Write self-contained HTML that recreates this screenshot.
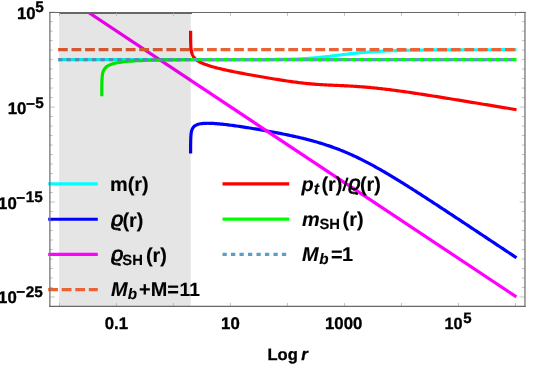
<!DOCTYPE html>
<html><head><meta charset="utf-8"><title>Plot</title>
<style>html,body{margin:0;padding:0;background:#fff}svg{display:block}</style></head>
<body>
<svg width="533" height="368" viewBox="0 0 533 368">
<rect x="0" y="0" width="533" height="368" fill="#fff"/>
<clipPath id="c"><rect x="49.60" y="12.55" width="475.35" height="293.80"/></clipPath>
<g clip-path="url(#c)" fill="none" stroke-width="3.2" stroke-linejoin="round">
<path d="M58.00,59.60 L59.53,59.60 L61.07,59.60 L62.60,59.60 L64.13,59.60 L65.67,59.60 L67.20,59.60 L68.73,59.60 L70.27,59.60 L71.80,59.60 L73.33,59.60 L74.87,59.60 L76.40,59.60 L77.93,59.60 L79.47,59.60 L81.00,59.60 L82.54,59.60 L84.07,59.60 L85.60,59.60 L87.14,59.60 L88.67,59.60 L90.20,59.60 L91.74,59.60 L93.27,59.60 L94.80,59.60 L96.34,59.60 L97.87,59.60 L99.40,59.60 L100.94,59.60 L102.47,59.60 L104.00,59.60 L105.54,59.60 L107.07,59.60 L108.60,59.60 L110.14,59.60 L111.67,59.60 L113.20,59.60 L114.74,59.60 L116.27,59.60 L117.80,59.60 L119.34,59.60 L120.87,59.60 L122.40,59.60 L123.94,59.60 L125.47,59.60 L127.01,59.60 L128.54,59.60 L130.07,59.60 L131.61,59.60 L133.14,59.60 L134.67,59.60 L136.21,59.60 L137.74,59.60 L139.27,59.60 L140.81,59.60 L142.34,59.60 L143.87,59.60 L145.41,59.60 L146.94,59.60 L148.47,59.60 L150.01,59.60 L151.54,59.60 L153.07,59.60 L154.61,59.60 L156.14,59.60 L157.67,59.60 L159.21,59.60 L160.74,59.60 L162.27,59.60 L163.81,59.60 L165.34,59.60 L166.87,59.60 L168.41,59.60 L169.94,59.60 L171.47,59.60 L173.01,59.60 L174.54,59.60 L176.08,59.60 L177.61,59.60 L179.14,59.60 L180.68,59.60 L182.21,59.60 L183.74,59.60 L185.28,59.60 L186.81,59.60 L188.34,59.60 L189.88,59.60 L191.41,59.60 L192.94,59.60 L194.48,59.60 L196.01,59.60 L197.54,59.60 L199.08,59.60 L200.61,59.60 L202.14,59.60 L203.68,59.60 L205.21,59.60 L206.74,59.60 L208.28,59.60 L209.81,59.60 L211.34,59.60 L212.88,59.60 L214.41,59.60 L215.94,59.60 L217.48,59.60 L219.01,59.60 L220.55,59.60 L222.08,59.60 L223.61,59.60 L225.15,59.60 L226.68,59.60 L228.21,59.60 L229.75,59.60 L231.28,59.60 L232.81,59.60 L234.35,59.60 L235.88,59.60 L237.41,59.59 L238.95,59.59 L240.48,59.59 L242.01,59.59 L243.55,59.59 L245.08,59.59 L246.61,59.59 L248.15,59.59 L249.68,59.58 L251.21,59.58 L252.75,59.58 L254.28,59.58 L255.81,59.57 L257.35,59.57 L258.88,59.57 L260.41,59.56 L261.95,59.56 L263.48,59.55 L265.02,59.54 L266.55,59.54 L268.08,59.53 L269.62,59.52 L271.15,59.51 L272.68,59.50 L274.22,59.48 L275.75,59.47 L277.28,59.45 L278.82,59.43 L280.35,59.41 L281.88,59.39 L283.42,59.37 L284.95,59.34 L286.48,59.31 L288.02,59.27 L289.55,59.23 L291.08,59.19 L292.62,59.15 L294.15,59.10 L295.68,59.04 L297.22,58.98 L298.75,58.91 L300.28,58.84 L301.82,58.76 L303.35,58.68 L304.88,58.59 L306.42,58.49 L307.95,58.39 L309.48,58.28 L311.02,58.16 L312.55,58.04 L314.09,57.91 L315.62,57.77 L317.15,57.63 L318.69,57.48 L320.22,57.32 L321.75,57.16 L323.29,56.99 L324.82,56.82 L326.35,56.65 L327.89,56.47 L329.42,56.28 L330.95,56.10 L332.49,55.91 L334.02,55.72 L335.55,55.53 L337.09,55.34 L338.62,55.16 L340.15,54.97 L341.69,54.78 L343.22,54.59 L344.75,54.41 L346.29,54.23 L347.82,54.05 L349.35,53.88 L350.89,53.70 L352.42,53.54 L353.95,53.37 L355.49,53.21 L357.02,53.06 L358.56,52.91 L360.09,52.76 L361.62,52.62 L363.16,52.48 L364.69,52.35 L366.22,52.22 L367.76,52.10 L369.29,51.98 L370.82,51.87 L372.36,51.76 L373.89,51.65 L375.42,51.55 L376.96,51.46 L378.49,51.37 L380.02,51.28 L381.56,51.20 L383.09,51.12 L384.62,51.04 L386.16,50.97 L387.69,50.90 L389.22,50.84 L390.76,50.77 L392.29,50.71 L393.82,50.66 L395.36,50.61 L396.89,50.56 L398.42,50.51 L399.96,50.46 L401.49,50.42 L403.03,50.38 L404.56,50.34 L406.09,50.31 L407.63,50.27 L409.16,50.24 L410.69,50.21 L412.23,50.18 L413.76,50.15 L415.29,50.13 L416.83,50.10 L418.36,50.08 L419.89,50.06 L421.43,50.04 L422.96,50.02 L424.49,50.00 L426.03,49.98 L427.56,49.97 L429.09,49.95 L430.63,49.94 L432.16,49.93 L433.69,49.91 L435.23,49.90 L436.76,49.89 L438.29,49.88 L439.83,49.87 L441.36,49.86 L442.89,49.85 L444.43,49.84 L445.96,49.84 L447.49,49.83 L449.03,49.82 L450.56,49.81 L452.10,49.81 L453.63,49.80 L455.16,49.80 L456.70,49.79 L458.23,49.79 L459.76,49.78 L461.30,49.78 L462.83,49.77 L464.36,49.77 L465.90,49.77 L467.43,49.76 L468.96,49.76 L470.50,49.76 L472.03,49.76 L473.56,49.75 L475.10,49.75 L476.63,49.75 L478.16,49.75 L479.70,49.74 L481.23,49.74 L482.76,49.74 L484.30,49.74 L485.83,49.74 L487.36,49.74 L488.90,49.73 L490.43,49.73 L491.96,49.73 L493.50,49.73 L495.03,49.73 L496.57,49.73 L498.10,49.73 L499.63,49.73 L501.17,49.73 L502.70,49.72 L504.23,49.72 L505.77,49.72 L507.30,49.72 L508.83,49.72 L510.37,49.72 L511.90,49.72 L513.43,49.72 L514.97,49.72 L516.50,49.72" stroke="#00ffff" />
<path d="M190.61,153.42 L190.61,152.70 L190.61,151.99 L190.62,151.27 L190.62,150.55 L190.62,149.83 L190.62,149.12 L190.62,148.40 L190.63,147.68 L190.63,146.96 L190.63,146.25 L190.64,145.53 L190.64,144.81 L190.65,144.10 L190.66,143.38 L190.66,142.67 L190.68,141.95 L190.69,141.24 L190.70,140.53 L190.72,139.81 L190.74,139.10 L190.77,138.39 L190.80,137.68 L190.83,136.98 L190.88,136.27 L190.93,135.57 L190.99,134.88 L191.06,134.18 L191.14,133.49 L191.24,132.81 L191.36,132.13 L191.50,131.46 L191.67,130.79 L191.86,130.14 L192.09,129.50 L192.37,128.87 L192.69,128.26 L193.06,127.67 L193.51,127.10 L194.02,126.55 L194.62,126.04 L195.31,125.55 L196.12,125.10 L197.04,124.69 L198.09,124.32 L199.29,124.01 L200.65,123.74 L200.65,123.74 L202.09,123.54 L203.53,123.41 L204.97,123.32 L206.42,123.28 L207.86,123.27 L209.30,123.29 L210.74,123.33 L212.18,123.39 L213.63,123.47 L215.07,123.56 L216.51,123.67 L217.95,123.79 L219.40,123.92 L220.84,124.06 L222.28,124.21 L223.72,124.37 L225.17,124.53 L226.61,124.70 L228.05,124.88 L229.49,125.06 L230.93,125.25 L232.38,125.44 L233.82,125.63 L235.26,125.83 L236.70,126.04 L238.15,126.24 L239.59,126.45 L241.03,126.67 L242.47,126.88 L243.91,127.10 L245.36,127.33 L246.80,127.55 L248.24,127.78 L249.68,128.01 L251.13,128.24 L252.57,128.48 L254.01,128.71 L255.45,128.95 L256.89,129.19 L258.34,129.44 L259.78,129.68 L261.22,129.93 L262.66,130.18 L264.11,130.44 L265.55,130.69 L266.99,130.95 L268.43,131.21 L269.87,131.47 L271.32,131.74 L272.76,132.01 L274.20,132.28 L275.64,132.55 L277.09,132.82 L278.53,133.10 L279.97,133.38 L281.41,133.67 L282.86,133.96 L284.30,134.25 L285.74,134.54 L287.18,134.84 L288.62,135.14 L290.07,135.45 L291.51,135.76 L292.95,136.07 L294.39,136.39 L295.84,136.72 L297.28,137.04 L298.72,137.38 L300.16,137.71 L301.60,138.06 L303.05,138.41 L304.49,138.76 L305.93,139.12 L307.37,139.49 L308.82,139.86 L310.26,140.24 L311.70,140.63 L313.14,141.02 L314.58,141.42 L316.03,141.83 L317.47,142.25 L318.91,142.67 L320.35,143.10 L321.80,143.54 L323.24,143.99 L324.68,144.45 L326.12,144.92 L327.56,145.40 L329.01,145.88 L330.45,146.38 L331.89,146.88 L333.33,147.40 L334.78,147.92 L336.22,148.46 L337.66,149.00 L339.10,149.56 L340.55,150.13 L341.99,150.70 L343.43,151.29 L344.87,151.89 L346.31,152.50 L347.76,153.12 L349.20,153.75 L350.64,154.39 L352.08,155.04 L353.53,155.70 L354.97,156.37 L356.41,157.05 L357.85,157.74 L359.29,158.44 L360.74,159.15 L362.18,159.87 L363.62,160.60 L365.06,161.34 L366.51,162.08 L367.95,162.84 L369.39,163.60 L370.83,164.37 L372.27,165.15 L373.72,165.94 L375.16,166.74 L376.60,167.54 L378.04,168.35 L379.49,169.17 L380.93,169.99 L382.37,170.82 L383.81,171.66 L385.26,172.50 L386.70,173.35 L388.14,174.20 L389.58,175.06 L391.02,175.92 L392.47,176.79 L393.91,177.66 L395.35,178.54 L396.79,179.42 L398.24,180.30 L399.68,181.19 L401.12,182.09 L402.56,182.98 L404.00,183.88 L405.45,184.78 L406.89,185.69 L408.33,186.60 L409.77,187.51 L411.22,188.42 L412.66,189.34 L414.10,190.26 L415.54,191.18 L416.98,192.11 L418.43,193.03 L419.87,193.96 L421.31,194.89 L422.75,195.82 L424.20,196.75 L425.64,197.68 L427.08,198.62 L428.52,199.56 L429.96,200.50 L431.41,201.44 L432.85,202.38 L434.29,203.32 L435.73,204.26 L437.18,205.20 L438.62,206.15 L440.06,207.09 L441.50,208.04 L442.95,208.99 L444.39,209.94 L445.83,210.89 L447.27,211.84 L448.71,212.79 L450.16,213.74 L451.60,214.69 L453.04,215.64 L454.48,216.59 L455.93,217.54 L457.37,218.50 L458.81,219.45 L460.25,220.41 L461.69,221.36 L463.14,222.32 L464.58,223.27 L466.02,224.23 L467.46,225.18 L468.91,226.14 L470.35,227.09 L471.79,228.05 L473.23,229.01 L474.67,229.97 L476.12,230.92 L477.56,231.88 L479.00,232.84 L480.44,233.80 L481.89,234.75 L483.33,235.71 L484.77,236.67 L486.21,237.63 L487.65,238.59 L489.10,239.55 L490.54,240.51 L491.98,241.47 L493.42,242.42 L494.87,243.38 L496.31,244.34 L497.75,245.30 L499.19,246.26 L500.64,247.22 L502.08,248.18 L503.52,249.14 L504.96,250.10 L506.40,251.06 L507.85,252.02 L509.29,252.98 L510.73,253.94 L512.17,254.90 L513.62,255.86 L515.06,256.82 L516.50,257.78" stroke="#0000ff" />
<path d="M88.60,12.50 L516.40,296.90" stroke="#ff00ff" />
<path d="M58.00,49.71 H516.60" stroke="#eb6235" stroke-dasharray="9.8,3.746"/>
<path d="M190.61,30.75 L190.62,31.29 L190.62,31.82 L190.62,32.36 L190.62,32.90 L190.62,33.44 L190.62,33.97 L190.62,34.51 L190.62,35.05 L190.63,35.59 L190.63,36.12 L190.63,36.66 L190.64,37.20 L190.64,37.74 L190.64,38.27 L190.65,38.81 L190.65,39.35 L190.66,39.89 L190.67,40.42 L190.68,40.96 L190.69,41.50 L190.70,42.04 L190.71,42.57 L190.72,43.11 L190.74,43.65 L190.76,44.18 L190.78,44.72 L190.80,45.26 L190.83,45.80 L190.86,46.33 L190.89,46.87 L190.93,47.41 L190.97,47.95 L191.02,48.48 L191.08,49.02 L191.15,49.56 L191.22,50.10 L191.30,50.63 L191.40,51.17 L191.51,51.71 L191.63,52.25 L191.77,52.78 L191.92,53.32 L192.10,53.86 L192.30,54.40 L192.53,54.93 L192.78,55.47 L193.07,56.01 L193.40,56.55 L193.76,57.08 L194.17,57.62 L194.63,58.16 L195.14,58.70 L195.71,59.23 L196.34,59.77 L197.04,60.31 L197.82,60.85 L198.68,61.38 L199.62,61.92 L200.65,62.46 L200.65,62.46 L202.09,63.14 L203.53,63.76 L204.97,64.33 L206.42,64.85 L207.86,65.35 L209.30,65.81 L210.74,66.25 L212.18,66.68 L213.63,67.08 L215.07,67.47 L216.51,67.85 L217.95,68.21 L219.40,68.57 L220.84,68.91 L222.28,69.25 L223.72,69.58 L225.17,69.90 L226.61,70.21 L228.05,70.52 L229.49,70.83 L230.93,71.13 L232.38,71.43 L233.82,71.72 L235.26,72.01 L236.70,72.29 L238.15,72.58 L239.59,72.85 L241.03,73.13 L242.47,73.41 L243.91,73.68 L245.36,73.95 L246.80,74.21 L248.24,74.48 L249.68,74.74 L251.13,75.00 L252.57,75.26 L254.01,75.52 L255.45,75.78 L256.89,76.03 L258.34,76.29 L259.78,76.54 L261.22,76.79 L262.66,77.04 L264.11,77.29 L265.55,77.53 L266.99,77.78 L268.43,78.02 L269.87,78.26 L271.32,78.50 L272.76,78.74 L274.20,78.98 L275.64,79.21 L277.09,79.44 L278.53,79.68 L279.97,79.90 L281.41,80.13 L282.86,80.35 L284.30,80.57 L285.74,80.79 L287.18,81.00 L288.62,81.21 L290.07,81.42 L291.51,81.63 L292.95,81.83 L294.39,82.02 L295.84,82.21 L297.28,82.40 L298.72,82.58 L300.16,82.75 L301.60,82.92 L303.05,83.09 L304.49,83.25 L305.93,83.40 L307.37,83.55 L308.82,83.69 L310.26,83.82 L311.70,83.95 L313.14,84.07 L314.58,84.19 L316.03,84.30 L317.47,84.40 L318.91,84.50 L320.35,84.60 L321.80,84.69 L323.24,84.77 L324.68,84.85 L326.12,84.93 L327.56,85.00 L329.01,85.07 L330.45,85.14 L331.89,85.20 L333.33,85.27 L334.78,85.33 L336.22,85.39 L337.66,85.45 L339.10,85.52 L340.55,85.58 L341.99,85.65 L343.43,85.71 L344.87,85.78 L346.31,85.85 L347.76,85.92 L349.20,86.00 L350.64,86.08 L352.08,86.16 L353.53,86.25 L354.97,86.34 L356.41,86.43 L357.85,86.53 L359.29,86.63 L360.74,86.73 L362.18,86.84 L363.62,86.96 L365.06,87.07 L366.51,87.19 L367.95,87.32 L369.39,87.45 L370.83,87.59 L372.27,87.72 L373.72,87.87 L375.16,88.01 L376.60,88.16 L378.04,88.32 L379.49,88.47 L380.93,88.63 L382.37,88.80 L383.81,88.97 L385.26,89.14 L386.70,89.31 L388.14,89.49 L389.58,89.67 L391.02,89.85 L392.47,90.04 L393.91,90.23 L395.35,90.42 L396.79,90.61 L398.24,90.81 L399.68,91.01 L401.12,91.21 L402.56,91.41 L404.00,91.61 L405.45,91.82 L406.89,92.03 L408.33,92.24 L409.77,92.45 L411.22,92.66 L412.66,92.87 L414.10,93.09 L415.54,93.30 L416.98,93.52 L418.43,93.74 L419.87,93.96 L421.31,94.18 L422.75,94.41 L424.20,94.63 L425.64,94.85 L427.08,95.08 L428.52,95.30 L429.96,95.53 L431.41,95.76 L432.85,95.99 L434.29,96.21 L435.73,96.44 L437.18,96.67 L438.62,96.90 L440.06,97.14 L441.50,97.37 L442.95,97.60 L444.39,97.83 L445.83,98.07 L447.27,98.30 L448.71,98.53 L450.16,98.77 L451.60,99.00 L453.04,99.24 L454.48,99.47 L455.93,99.71 L457.37,99.94 L458.81,100.18 L460.25,100.41 L461.69,100.65 L463.14,100.89 L464.58,101.12 L466.02,101.36 L467.46,101.60 L468.91,101.84 L470.35,102.07 L471.79,102.31 L473.23,102.55 L474.67,102.79 L476.12,103.02 L477.56,103.26 L479.00,103.50 L480.44,103.74 L481.89,103.98 L483.33,104.22 L484.77,104.46 L486.21,104.69 L487.65,104.93 L489.10,105.17 L490.54,105.41 L491.98,105.65 L493.42,105.89 L494.87,106.13 L496.31,106.37 L497.75,106.61 L499.19,106.85 L500.64,107.09 L502.08,107.33 L503.52,107.56 L504.96,107.80 L506.40,108.04 L507.85,108.28 L509.29,108.52 L510.73,108.76 L512.17,109.00 L513.62,109.24 L515.06,109.48 L516.50,109.72" stroke="#ff0000" />
<path d="M101.80,96.15 L101.80,95.61 L101.80,95.07 L101.81,94.54 L101.81,94.00 L101.81,93.46 L101.81,92.92 L101.81,92.39 L101.81,91.85 L101.81,91.31 L101.81,90.77 L101.81,90.24 L101.82,89.70 L101.82,89.16 L101.82,88.63 L101.82,88.09 L101.83,87.55 L101.83,87.02 L101.84,86.48 L101.84,85.94 L101.85,85.41 L101.85,84.87 L101.86,84.33 L101.87,83.80 L101.88,83.26 L101.89,82.73 L101.90,82.19 L101.92,81.66 L101.93,81.12 L101.95,80.59 L101.97,80.05 L102.00,79.52 L102.03,78.99 L102.06,78.45 L102.09,77.92 L102.13,77.39 L102.18,76.86 L102.23,76.33 L102.29,75.81 L102.36,75.28 L102.44,74.75 L102.52,74.23 L102.62,73.71 L102.73,73.19 L102.86,72.68 L103.01,72.16 L103.17,71.65 L103.35,71.15 L103.56,70.64 L103.80,70.14 L104.06,69.65 L104.36,69.16 L104.70,68.68 L105.08,68.21 L105.50,67.74 L105.98,67.28 L106.50,66.83 L107.09,66.39 L107.75,65.97 L108.47,65.55 L109.27,65.14 L110.16,64.75 L111.13,64.38 L112.18,64.02 L113.34,63.67 L114.59,63.34 L115.94,63.03 L117.40,62.74 L118.96,62.46 L118.96,62.46 L121.46,62.08 L123.96,61.77 L126.46,61.50 L128.96,61.27 L131.46,61.08 L133.96,60.91 L136.46,60.77 L138.96,60.64 L141.46,60.53 L143.96,60.43 L146.46,60.34 L148.96,60.26 L151.46,60.20 L153.96,60.13 L156.46,60.08 L158.96,60.03 L161.46,59.99 L163.96,59.95 L166.46,59.91 L168.96,59.88 L171.47,59.85 L173.97,59.83 L176.47,59.81 L178.97,59.79 L181.47,59.77 L183.97,59.75 L186.47,59.74 L188.97,59.72 L191.47,59.71 L193.97,59.70 L196.47,59.69 L198.97,59.68 L201.47,59.67 L203.97,59.67 L206.47,59.66 L208.97,59.65 L211.47,59.65 L213.97,59.64 L216.47,59.64 L218.97,59.64 L221.47,59.63 L223.97,59.63 L226.47,59.63 L228.97,59.62 L231.47,59.62 L233.97,59.62 L236.47,59.62 L238.97,59.62 L241.47,59.61 L243.97,59.61 L246.47,59.61 L248.97,59.61 L251.47,59.61 L253.97,59.61 L256.47,59.61 L258.97,59.61 L261.47,59.61 L263.97,59.61 L266.47,59.61 L268.98,59.60 L271.48,59.60 L273.98,59.60 L276.48,59.60 L278.98,59.60 L281.48,59.60 L283.98,59.60 L286.48,59.60 L288.98,59.60 L291.48,59.60 L293.98,59.60 L296.48,59.60 L298.98,59.60 L301.48,59.60 L303.98,59.60 L306.48,59.60 L308.98,59.60 L311.48,59.60 L313.98,59.60 L316.48,59.60 L318.98,59.60 L321.48,59.60 L323.98,59.60 L326.48,59.60 L328.98,59.60 L331.48,59.60 L333.98,59.60 L336.48,59.60 L338.98,59.60 L341.48,59.60 L343.98,59.60 L346.48,59.60 L348.98,59.60 L351.48,59.60 L353.98,59.60 L356.48,59.60 L358.98,59.60 L361.48,59.60 L363.98,59.60 L366.48,59.60 L368.99,59.60 L371.49,59.60 L373.99,59.60 L376.49,59.60 L378.99,59.60 L381.49,59.60 L383.99,59.60 L386.49,59.60 L388.99,59.60 L391.49,59.60 L393.99,59.60 L396.49,59.60 L398.99,59.60 L401.49,59.60 L403.99,59.60 L406.49,59.60 L408.99,59.60 L411.49,59.60 L413.99,59.60 L416.49,59.60 L418.99,59.60 L421.49,59.60 L423.99,59.60 L426.49,59.60 L428.99,59.60 L431.49,59.60 L433.99,59.60 L436.49,59.60 L438.99,59.60 L441.49,59.60 L443.99,59.60 L446.49,59.60 L448.99,59.60 L451.49,59.60 L453.99,59.60 L456.49,59.60 L458.99,59.60 L461.49,59.60 L463.99,59.60 L466.49,59.60 L469.00,59.60 L471.50,59.60 L474.00,59.60 L476.50,59.60 L479.00,59.60 L481.50,59.60 L484.00,59.60 L486.50,59.60 L489.00,59.60 L491.50,59.60 L494.00,59.60 L496.50,59.60 L499.00,59.60 L501.50,59.60 L504.00,59.60 L506.50,59.60 L509.00,59.60 L511.50,59.60 L514.00,59.60 L516.50,59.60" stroke="#00ff00" />
<path d="M58.00,59.60 H516.60" stroke="#5d9ec7" stroke-dasharray="4.3,4.19"/>
</g>
<rect x="59.1" y="12.55" width="131.60" height="293.80" fill="#000" fill-opacity="0.102"/>
<path d="M59.1,13.2 H192.1" stroke="#666" stroke-width="1.6" fill="none"/>
<path d="M59.45,306.35 v-3.4 M59.45,12.55 v3.4 M116.45,306.35 v-3.4 M116.45,12.55 v3.4 M173.45,306.35 v-3.4 M173.45,12.55 v3.4 M230.45,306.35 v-3.4 M230.45,12.55 v3.4 M287.45,306.35 v-3.4 M287.45,12.55 v3.4 M344.45,306.35 v-3.4 M344.45,12.55 v3.4 M401.45,306.35 v-3.4 M401.45,12.55 v3.4 M458.45,306.35 v-3.4 M458.45,12.55 v3.4 M515.45,306.35 v-3.4 M515.45,12.55 v3.4 M49.60,296.97 h5.3 M524.95,296.97 h-5.3 M49.60,287.48 h3.2 M524.95,287.48 h-3.2 M49.60,277.99 h3.2 M524.95,277.99 h-3.2 M49.60,268.49 h3.2 M524.95,268.49 h-3.2 M49.60,259.00 h3.2 M524.95,259.00 h-3.2 M49.60,249.50 h3.2 M524.95,249.50 h-3.2 M49.60,240.00 h3.2 M524.95,240.00 h-3.2 M49.60,230.51 h3.2 M524.95,230.51 h-3.2 M49.60,221.01 h3.2 M524.95,221.01 h-3.2 M49.60,211.52 h3.2 M524.95,211.52 h-3.2 M49.60,202.02 h5.3 M524.95,202.02 h-5.3 M49.60,192.53 h3.2 M524.95,192.53 h-3.2 M49.60,183.03 h3.2 M524.95,183.03 h-3.2 M49.60,173.54 h3.2 M524.95,173.54 h-3.2 M49.60,164.04 h3.2 M524.95,164.04 h-3.2 M49.60,154.55 h3.2 M524.95,154.55 h-3.2 M49.60,145.06 h3.2 M524.95,145.06 h-3.2 M49.60,135.56 h3.2 M524.95,135.56 h-3.2 M49.60,126.06 h3.2 M524.95,126.06 h-3.2 M49.60,116.57 h3.2 M524.95,116.57 h-3.2 M49.60,107.07 h5.3 M524.95,107.07 h-5.3 M49.60,97.58 h3.2 M524.95,97.58 h-3.2 M49.60,88.09 h3.2 M524.95,88.09 h-3.2 M49.60,78.59 h3.2 M524.95,78.59 h-3.2 M49.60,69.09 h3.2 M524.95,69.09 h-3.2 M49.60,59.60 h3.2 M524.95,59.60 h-3.2 M49.60,50.11 h3.2 M524.95,50.11 h-3.2 M49.60,40.61 h3.2 M524.95,40.61 h-3.2 M49.60,31.12 h3.2 M524.95,31.12 h-3.2 M49.60,21.62 h3.2 M524.95,21.62 h-3.2 M49.60,12.13 h5.3 M524.95,12.13 h-5.3" stroke="#b3b3b3" stroke-width="0.8" fill="none"/>
<path d="M48.20,183.85 H97.80" stroke="#00ffff" stroke-width="3.2" fill="none" />
<path d="M48.20,219.25 H97.80" stroke="#0000ff" stroke-width="3.2" fill="none" />
<path d="M48.20,254.40 H97.80" stroke="#ff00ff" stroke-width="3.2" fill="none" />
<path d="M48.20,289.65 H97.80" stroke="#eb6235" stroke-width="3.2" fill="none" stroke-dasharray="9.8,3.746"/>
<path d="M222.50,183.90 H289.20" stroke="#ff0000" stroke-width="3.2" fill="none" />
<path d="M222.50,219.20 H289.20" stroke="#00ff00" stroke-width="3.2" fill="none" />
<path d="M222.50,254.40 H289.20" stroke="#5d9ec7" stroke-width="3.2" fill="none" stroke-dasharray="4.3,4.19"/>
<path d="M49.00,12.55 H525.85 M49.00,306.35 H525.85" stroke="#686868" stroke-width="1.05" fill="none"/>
<path d="M49.90,12.55 V306.35 M524.95,12.55 V306.35" stroke="#707070" stroke-width="1.25" fill="none"/>
<g font-family="Liberation Sans, Arial, Helvetica, sans-serif" font-weight="bold" fill="#000" stroke="#000" style="text-rendering:geometricPrecision">
<text><tspan x="110.00" y="191.10" font-size="19.90" stroke-width="0.12">m(r)</tspan></text>
<text><tspan x="111.30" y="226.00" font-size="20.80" font-weight="normal" font-style="italic" stroke-width="0.80">ϱ</tspan><tspan x="122.50" y="226.50" font-size="19.90" stroke-width="0.12">(r)</tspan></text>
<text><tspan x="111.30" y="261.30" font-size="20.80" font-weight="normal" font-style="italic" stroke-width="0.80">ϱ</tspan><tspan x="122.30" y="264.70" font-size="14.80" stroke-width="0.12">SH</tspan><tspan x="146.00" y="261.80" font-size="19.90" stroke-width="0.12">(r)</tspan></text>
<text><tspan x="110.90" y="296.20" font-size="19.90" font-style="italic" stroke-width="0.12">M</tspan><tspan x="127.70" y="299.00" font-size="15.20" font-style="italic" stroke-width="0.12">b</tspan><tspan x="139.10" y="296.20" font-size="19.90" stroke-width="0.12">+M=</tspan><tspan x="179.50" y="296.20" font-size="19.30" stroke-width="0.12">1</tspan><tspan x="189.20" y="296.20" font-size="19.30" stroke-width="0.12">1</tspan></text>
<text><tspan x="301.50" y="190.80" font-size="19.90" font-style="italic" stroke-width="0.12">p</tspan><tspan x="313.80" y="193.60" font-size="16.20" font-style="italic" stroke-width="0.12">t</tspan><tspan x="321.50" y="190.80" font-size="19.90" stroke-width="0.12">(r)</tspan><tspan x="341.90" y="190.50" font-size="18.60" stroke="none" rotate="7.0">/</tspan><tspan x="348.60" y="190.30" font-size="20.80" font-weight="normal" font-style="italic" stroke-width="0.80">ϱ</tspan><tspan x="360.00" y="190.80" font-size="19.90" stroke-width="0.12">(r)</tspan></text>
<text><tspan x="302.10" y="226.40" font-size="19.90" font-style="italic" stroke-width="0.12">m</tspan><tspan x="319.40" y="229.40" font-size="14.80" stroke-width="0.12">SH</tspan><tspan x="342.60" y="226.40" font-size="19.90" stroke-width="0.12">(r)</tspan></text>
<text><tspan x="302.10" y="260.90" font-size="19.90" font-style="italic" stroke-width="0.12">M</tspan><tspan x="319.20" y="263.70" font-size="15.20" font-style="italic" stroke-width="0.12">b</tspan><tspan x="331.00" y="260.90" font-size="19.90" stroke-width="0.12">=</tspan><tspan x="342.00" y="260.90" font-size="19.90" stroke-width="0.12">1</tspan></text>
<text><tspan x="17.00" y="18.93" font-size="16.80" stroke-width="0.32">10</tspan><tspan x="35.29" y="12.43" font-size="15.30" stroke-width="0.32">5</tspan></text>
<text><tspan x="7.67" y="113.87" font-size="16.80" stroke-width="0.32">10</tspan><tspan x="25.96" y="108.57" font-size="15.30" stroke-width="0.32">−</tspan><tspan x="35.29" y="107.97" font-size="15.30" stroke-width="0.32">5</tspan></text>
<text><tspan x="-1.94" y="208.62" font-size="16.80" stroke-width="0.32">10</tspan><tspan x="16.35" y="202.53" font-size="15.30" stroke-width="0.32">−</tspan><tspan x="25.68" y="201.93" font-size="15.30" stroke-width="0.32">15</tspan></text>
<text><tspan x="-1.94" y="303.47" font-size="16.80" stroke-width="0.32">10</tspan><tspan x="16.35" y="297.47" font-size="15.30" stroke-width="0.32">−</tspan><tspan x="25.68" y="296.87" font-size="15.30" stroke-width="0.32">25</tspan></text>
<text><tspan x="104.72" y="329.20" font-size="16.80" stroke-width="0.32">0.1</tspan></text>
<text><tspan x="221.06" y="329.20" font-size="16.80" stroke-width="0.32">10</tspan></text>
<text><tspan x="325.01" y="329.20" font-size="16.80" stroke-width="0.32">1000</tspan></text>
<text><tspan x="444.60" y="329.20" font-size="16.20" stroke-width="0.32">10</tspan><tspan x="463.20" y="322.70" font-size="15.00" stroke-width="0.32">5</tspan></text>
<text><tspan x="267.50" y="360.00" font-size="16.50" stroke-width="0.32">Log </tspan><tspan x="301.30" y="360.00" font-size="17.00" font-style="italic" stroke-width="0.32">r</tspan></text>
</g>
</svg>
</body></html>
